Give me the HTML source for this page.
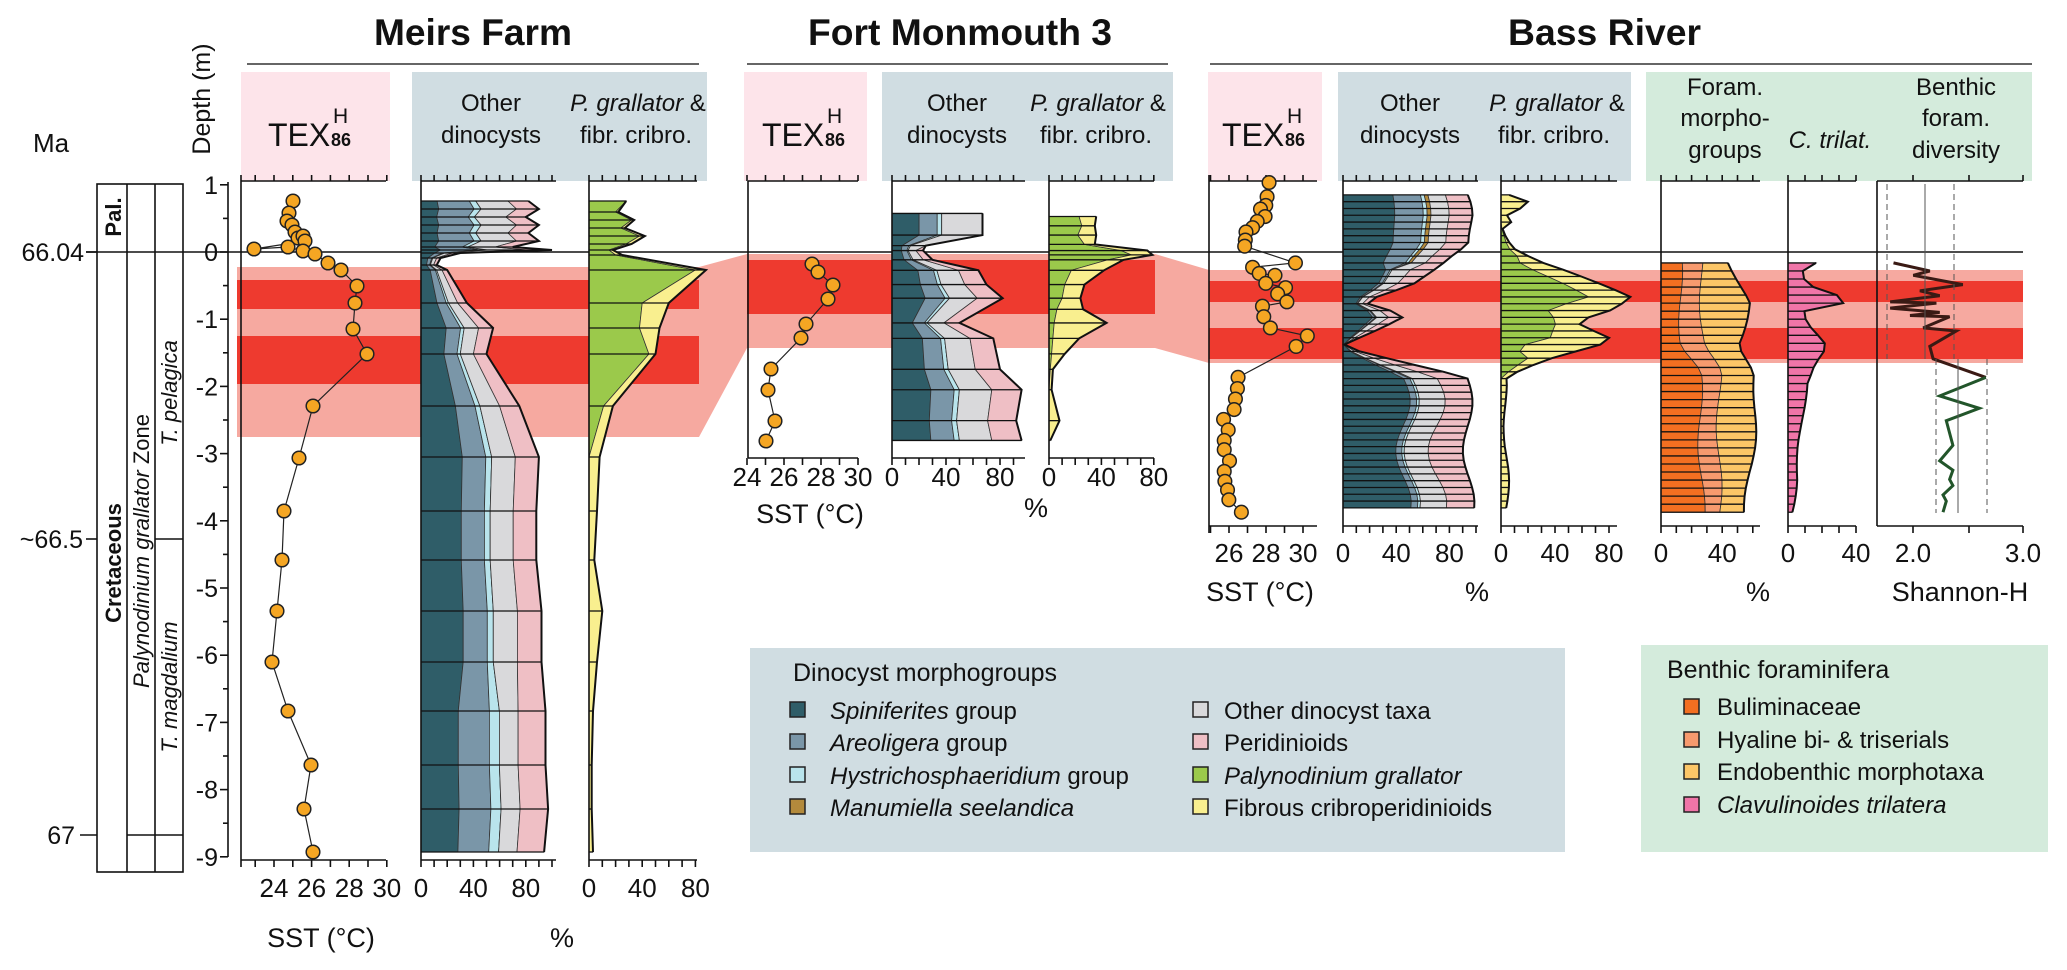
<!DOCTYPE html>
<html><head><meta charset="utf-8"><style>body{margin:0;background:#fff}svg{display:block}text{font-family:"Liberation Sans",Arial,sans-serif;fill:#111}</style></head>
<body>
<svg id="s" xmlns="http://www.w3.org/2000/svg" width="2067" height="970" viewBox="0 0 2067 970">
<rect x="241" y="72" width="149" height="109" fill="#fde4ea"/>
<rect x="412" y="72" width="295" height="109" fill="#d0dde2"/>
<rect x="744" y="72" width="123" height="109" fill="#fde4ea"/>
<rect x="882" y="72" width="291" height="109" fill="#d0dde2"/>
<rect x="1208" y="72" width="114" height="109" fill="#fde4ea"/>
<rect x="1338" y="72" width="293" height="109" fill="#d0dde2"/>
<rect x="1646" y="72" width="386" height="109" fill="#d4ebdc"/>
<rect x="750" y="648" width="815" height="204" fill="#d0dde2"/>
<rect x="1641" y="645" width="407" height="207" fill="#d4ebdc"/>
<g id="bands"></g>
<g id="data"></g>
<g id="axes" stroke="#111" stroke-width="1.6" fill="none"></g>
<g id="dots"></g>
<text x="374" y="45" font-size="37" font-weight="bold" textLength="198" lengthAdjust="spacingAndGlyphs">Meirs Farm</text>
<text x="808" y="45" font-size="37" font-weight="bold" textLength="304" lengthAdjust="spacingAndGlyphs">Fort Monmouth 3</text>
<text x="1508" y="45" font-size="37" font-weight="bold" textLength="193" lengthAdjust="spacingAndGlyphs">Bass River</text>
<line x1="247" y1="64" x2="699" y2="64" stroke="#333" stroke-width="1.4"/>
<line x1="747" y1="64" x2="1168" y2="64" stroke="#333" stroke-width="1.4"/>
<line x1="1210" y1="64" x2="2032" y2="64" stroke="#333" stroke-width="1.4"/>
<g font-size="24" text-anchor="middle">
<text x="491" y="111">Other</text><text x="491" y="143">dinocysts</text>
<text x="638" y="111"><tspan font-style="italic">P. grallator</tspan> &amp;</text><text x="636" y="143">fibr. cribro.</text>
<text x="957" y="111">Other</text><text x="957" y="143">dinocysts</text>
<text x="1098" y="111"><tspan font-style="italic">P. grallator</tspan> &amp;</text><text x="1096" y="143">fibr. cribro.</text>
<text x="1410" y="111">Other</text><text x="1410" y="143">dinocysts</text>
<text x="1557" y="111"><tspan font-style="italic">P. grallator</tspan> &amp;</text><text x="1554" y="143">fibr. cribro.</text>
<text x="1725" y="95">Foram.</text><text x="1725" y="126">morpho-</text><text x="1725" y="158">groups</text>
<text x="1830" y="148" font-style="italic">C. trilat.</text>
<text x="1956" y="95">Benthic</text><text x="1956" y="126">foram.</text><text x="1956" y="158">diversity</text>
</g>
<g font-size="32">
<text x="268" y="146">TEX</text><text x="333" y="123" font-size="21">H</text><text x="331" y="146" font-size="18" font-weight="bold">86</text>
<text x="762" y="146">TEX</text><text x="827" y="123" font-size="21">H</text><text x="825" y="146" font-size="18" font-weight="bold">86</text>
<text x="1222" y="146">TEX</text><text x="1287" y="123" font-size="21">H</text><text x="1285" y="146" font-size="18" font-weight="bold">86</text>
</g>
<text x="51" y="152" font-size="26" text-anchor="middle">Ma</text>
<text transform="translate(210,99) rotate(-90)" font-size="25" text-anchor="middle">Depth (m)</text>
<g stroke="#111" stroke-width="1.6" fill="none">
<rect x="97" y="184" width="86" height="688"/>
<line x1="127" y1="184" x2="127" y2="872"/><line x1="155" y1="184" x2="155" y2="872"/>
<line x1="155" y1="539" x2="183" y2="539"/>
<line x1="127" y1="835" x2="183" y2="835"/>
<line x1="86" y1="252" x2="97" y2="252"/><line x1="86" y1="539" x2="97" y2="539"/><line x1="80" y1="835" x2="97" y2="835"/>
</g>
<g font-size="25" text-anchor="end">
<text x="84" y="261">66.04</text><text x="83" y="548">~66.5</text><text x="75" y="844">67</text>
</g>
<text transform="translate(121,217) rotate(-90)" font-size="22" font-weight="bold" text-anchor="middle">Pal.</text>
<text transform="translate(121,563) rotate(-90)" font-size="22" font-weight="bold" text-anchor="middle">Cretaceous</text>
<text transform="translate(149,551) rotate(-90)" font-size="22" text-anchor="middle"><tspan font-style="italic">Palynodinium grallator</tspan> Zone</text>
<text transform="translate(177,393) rotate(-90)" font-size="22" font-style="italic" text-anchor="middle">T. pelagica</text>
<text transform="translate(177,687) rotate(-90)" font-size="22" font-style="italic" text-anchor="middle">T. magdalium</text>
<g id="depthlab" font-size="25" text-anchor="end"></g>
<g font-size="26" text-anchor="middle" id="blabs"></g>
<g font-size="27" text-anchor="middle">
<text x="321" y="947">SST (°C)</text><text x="562" y="947">%</text>
<text x="810" y="523">SST (°C)</text><text x="1036" y="517">%</text>
<text x="1260" y="601">SST (°C)</text><text x="1477" y="601">%</text><text x="1758" y="601">%</text><text x="1960" y="601">Shannon-H</text>
</g>
<g font-size="24">
<text x="793" y="681" font-size="25">Dinocyst morphogroups</text>
<text x="830" y="719"><tspan font-style="italic">Spiniferites</tspan> group</text>
<text x="830" y="751"><tspan font-style="italic">Areoligera</tspan> group</text>
<text x="830" y="784"><tspan font-style="italic">Hystrichosphaeridium</tspan> group</text>
<text x="830" y="816" font-style="italic">Manumiella seelandica</text>
<text x="1224" y="719">Other dinocyst taxa</text>
<text x="1224" y="751">Peridinioids</text>
<text x="1224" y="784" font-style="italic">Palynodinium grallator</text>
<text x="1224" y="816">Fibrous cribroperidinioids</text>
<text x="1667" y="678" font-size="25">Benthic foraminifera</text>
<text x="1717" y="715">Buliminaceae</text>
<text x="1717" y="748">Hyaline bi- &amp; triserials</text>
<text x="1717" y="780">Endobenthic morphotaxa</text>
<text x="1717" y="813" font-style="italic">Clavulinoides trilatera</text>
</g>
<g stroke="#222" stroke-width="1.5">
<rect x="790" y="702" width="15" height="15" fill="#2f5d68"/>
<rect x="790" y="734" width="15" height="15" fill="#7a96a8"/>
<rect x="790" y="767" width="15" height="15" fill="#b9e4ec"/>
<rect x="790" y="799" width="15" height="15" fill="#b38a3c"/>
<rect x="1193" y="702" width="15" height="15" fill="#d9d9db"/>
<rect x="1193" y="734" width="15" height="15" fill="#efbfc5"/>
<rect x="1193" y="767" width="15" height="15" fill="#9bc94b"/>
<rect x="1193" y="799" width="15" height="15" fill="#f9ef8f"/>
<rect x="1684" y="699" width="15" height="15" fill="#f36f21"/>
<rect x="1684" y="732" width="15" height="15" fill="#f79a6e"/>
<rect x="1684" y="764" width="15" height="15" fill="#fcc667"/>
<rect x="1684" y="797" width="15" height="15" fill="#f075a8"/>
</g>
</svg>
<script>
var NS="http://www.w3.org/2000/svg";
function el(p,tag,a){var e=document.createElementNS(NS,tag);for(var k in a)e.setAttribute(k,a[k]);document.getElementById(p).appendChild(e);return e;}
function P(pts){return pts.map(function(q){return q[0].toFixed(1)+","+q[1].toFixed(1)}).join(" ");}
function X6(x){return x/1.5165+1033;} function Y6(y){return y/1.6165;}
var B="bands",L="#f6a9a0",R="#ee3a2f";
el(B,"rect",{x:237,y:267,width:462,height:170,fill:L});
el(B,"rect",{x:237,y:280,width:462,height:29,fill:R});
el(B,"rect",{x:237,y:336,width:462,height:48,fill:R});
el(B,"polygon",{points:"699,267 747,254 747,348 699,437",fill:L});
el(B,"rect",{x:747,y:254,width:408,height:94,fill:L});
el(B,"rect",{x:747,y:260,width:408,height:54,fill:R});
el(B,"polygon",{points:"1155,254 1209,270 1209,363 1155,348",fill:L});
el(B,"rect",{x:1209,y:270,width:814,height:93,fill:L});
el(B,"rect",{x:1209,y:281,width:814,height:21,fill:R});
el(B,"rect",{x:1209,y:328,width:814,height:31,fill:R});
el(B,"line",{x1:86,y1:252,x2:2023,y2:252,stroke:"#111","stroke-width":1.6});
function stack(x0,ppu,ys,layers,cols){
 var n=ys.length,prev=ys.map(function(){return 0});
 layers.forEach(function(l,i){
  var cur=prev.map(function(v,j){return v+l[j]});
  var pts=[];for(var j=0;j<n;j++)pts.push([x0+cur[j]*ppu,ys[j]]);
  for(var j=n-1;j>=0;j--)pts.push([x0+prev[j]*ppu,ys[j]]);
  el("data","polygon",{points:P(pts),fill:cols[i],stroke:"#333","stroke-width":0.8});
  prev=cur;});
 for(var j=0;j<n;j++)el("data","line",{x1:x0,y1:ys[j],x2:x0+prev[j]*ppu,y2:ys[j],stroke:"#111","stroke-width":1.3});
 el("data","polyline",{points:P(ys.map(function(y,j){return[x0+prev[j]*ppu,y]})),fill:"none",stroke:"#111","stroke-width":2});
}
function interp(kp,y){for(var i=0;i<kp.length-1;i++){if(y<=kp[i+1][0]){var t=(y-kp[i][0])/(kp[i+1][0]-kp[i][0]);return kp[i][1]+t*(kp[i+1][1]-kp[i][1]);}}return kp[kp.length-1][1];}
function nz(i,a){return Math.sin(i*12.9898+1.3)*a;}
var DC=["#2f5d68","#7a96a8","#b9e4ec","#b38a3c","#d9d9db","#efbfc5"];
function dinoLayers(ys,tot,fr){var ls=[[],[],[],[],[],[]];ys.forEach(function(y,j){var f=fr(y,j);for(var k=0;k<6;k++)ls[k].push(tot[j]*f[k]);});return ls;}
var ys=[201,209,217,225,233,241,247,250,253,258,265,270,303,328,354,406,457,511,560,611,662,711,765,809,852];
var tot=[82,90,80,90,82,90,70,100,30,15,12,20,35,55,50,75,90,88,88,92,92,95,95,97,94];
stack(421,1.31,ys,dinoLayers(ys,tot,function(y){return y<252?[.15,.3,.06,0,.3,.19]:y<700?[.35,.2,.05,0,.2,.2]:[.3,.25,.08,0,.15,.22]}),DC);
ys=[201,212,220,228,236,244,250,255,270,303,328,354,406,457,511,560,611,662,711,765,809,852];
stack(589,1.33,ys,[[28,20,32,24,38,28,15,20,80,40,38,45,11,0,0,0,0,0,0,0,0,0],[0,2,2,3,4,4,3,5,8,20,15,5,7,8,6,4,10,6,3,2,2,3]],["#9bc94b","#f9ef8f"]);
var zy=[345,380,397,405,420,437,460,482,522,547,597,630,680,712];ys=zy.map(Y6);
tot=[67,67,25,23,30,64,70,82,50,75,80,96,92,96];
stack(892,1.35,ys,dinoLayers(ys,tot,function(y){return y<250?[.3,.2,.05,0,.45,0]:[.3,.18,.04,0,.25,.23]}),DC);
zy=[350,365,380,395,405,412,420,437,460,482,500,522,547,572,597,630,680,712];ys=zy.map(Y6);
stack(1049,1.31,ys,[[23,25,22,27,55,63,45,17,12,10,6,4,3,2,1,0,0,0],[13,10,14,8,20,16,12,25,15,14,20,40,20,10,2,2,8,1]],["#9bc94b","#f9ef8f"]);
zy=[];for(var v=315;v<=828;v+=11)zy.push(v);ys=zy.map(Y6);
var kT=[[315,90],[345,95],[395,98],[430,75],[460,50],[488,10],[510,45],[530,30],[560,2],[610,93],[828,95]];
tot=zy.map(function(y,i){return Math.max(1,interp(kT,y)+nz(i,4))});
stack(1343,1.33,ys,dinoLayers(ys,tot,function(y,j){return zy[j]<430?[.4,.22,.03,.03,.14,.18]:[.48+nz(j,.04),.05,.02,0,.2,.25-nz(j,.04)]}),DC);
var kG=[[315,0],[365,0],[400,5],[430,20],[460,45],[480,60],[500,30],[520,40],[550,40],[560,15],[580,25],[607,0],[828,0]];
var kY=[[315,5],[330,25],[345,3],[355,12],[370,2],[410,5],[430,20],[460,25],[480,30],[500,50],[520,15],[550,50],[560,60],[580,15],[607,2],[700,4],[828,4]];
stack(1501,1.35,ys,[zy.map(function(y,i){return Math.max(0,interp(kG,y)+(y>420&&y<600?nz(i,5):0))}),zy.map(function(y,i){return Math.max(0.5,interp(kY,y)+nz(i+3,2))})],["#9bc94b","#f9ef8f"]);
zy=[];for(var v=425;v<=830;v+=13)zy.push(v);ys=zy.map(Y6);
stack(1661,1.53,ys,[zy.map(function(y,i){return interp([[425,12],[560,14],[600,25],[830,27]],y)+nz(i,2)}),zy.map(function(y,i){return interp([[425,14],[560,14],[600,13],[830,11]],y)+nz(i+5,2)}),zy.map(function(y,i){return interp([[425,20],[488,30],[560,22],[610,25],[830,18]],y)+nz(i+9,4)})],["#f36f21","#f79a6e","#fcc667"]);
stack(1788,1.7,ys,[zy.map(function(y,i){return Math.max(1,interp([[425,15],[440,6],[460,10],[470,20],[488,42],[495,10],[520,12],[545,20],[560,24],[590,15],[620,10],[700,8],[780,5],[830,1]],y)+nz(i,1.5))})],["#f075a8"]);
var A="axes";
el(A,"line",{x1:1887,y1:184,x2:1887,y2:359,"stroke-dasharray":"6,4","stroke-width":1,stroke:"#555"});
el(A,"line",{x1:1925,y1:184,x2:1925,y2:359,"stroke-width":1,stroke:"#555"});
el(A,"line",{x1:1954,y1:184,x2:1954,y2:359,"stroke-dasharray":"6,4","stroke-width":1,stroke:"#555"});
el(A,"line",{x1:1936,y1:359,x2:1936,y2:513,"stroke-dasharray":"6,4","stroke-width":1,stroke:"#555"});
el(A,"line",{x1:1958,y1:359,x2:1958,y2:513,"stroke-width":1,stroke:"#555"});
el(A,"line",{x1:1987,y1:359,x2:1987,y2:513,"stroke-dasharray":"6,4","stroke-width":1,stroke:"#555"});
var d1=[[1305,425],[1360,438],[1335,445],[1360,450],[1410,460],[1345,470],[1375,478],[1300,488],[1370,490],[1300,498],[1375,505],[1330,510],[1390,512],[1350,530],[1400,535],[1360,560],[1365,580],[1445,610]];
var d2=[[1445,610],[1375,640],[1435,660],[1385,680],[1395,720],[1375,745],[1395,760],[1390,775],[1395,785],[1380,800],[1385,810],[1380,828]];
el("data","polyline",{points:P(d1.map(function(q){return[X6(q[0]),Y6(q[1])]})),fill:"none",stroke:"#3a1a14","stroke-width":3});
el("data","polyline",{points:P(d2.map(function(q){return[X6(q[0]),Y6(q[1])]})),fill:"none",stroke:"#22552a","stroke-width":3});
function ax(x0,x1,ytop,ybot,tx,bottom,ticks){
 el(A,"line",{x1:x0,y1:ytop,x2:x0,y2:ybot});
 el(A,"line",{x1:x0,y1:ytop,x2:x1,y2:ytop});
 ticks.forEach(function(t){el(A,"line",{x1:t,y1:ytop,x2:t,y2:ytop-6});});
 if(bottom){el(A,"line",{x1:x0,y1:ybot,x2:x1,y2:ybot});ticks.forEach(function(t){el(A,"line",{x1:t,y1:ybot,x2:t,y2:ybot+7});});}
}
function rng(a,b,s,f){var r=[];for(var v=a;v<=b+1e-6;v+=s)r.push(f(v));return r;}
function lab(x,y,t){var e=el("blabs","text",{x:x,y:y});e.textContent=t;}
ax(241,386,181,860,0,1,rng(23,30,1,function(T){return 274+(T-24)*18.8}).concat([241]));
[24,26,28,30].forEach(function(T){lab(274+(T-24)*18.8,897,T)});
ax(421,556,181,860,0,1,rng(0,100,10,function(p){return 421+p*1.31}));
[0,40,80].forEach(function(p){lab(421+p*1.31,897,p)});
ax(589,697,181,860,0,1,rng(0,80,10,function(p){return 589+p*1.33}));
[0,40,80].forEach(function(p){lab(589+p*1.33,897,p)});
ax(748,858,181,458,0,1,rng(24,30,1,function(T){return 747+(T-24)*18.5}));
[24,26,28,30].forEach(function(T){lab(747+(T-24)*18.5,486,T)});
ax(892,1025,181,458,0,1,rng(0,90,10,function(p){return 892+p*1.35}));
[0,40,80].forEach(function(p){lab(892+p*1.35,486,p)});
ax(1049,1154,181,458,0,1,rng(0,80,10,function(p){return 1049+p*1.31}));
[0,40,80].forEach(function(p){lab(1049+p*1.31,486,p)});
ax(1209,1317,181,526,0,1,rng(25,30,1,function(T){return 1229+(T-26)*18.5}).concat([1209]));
[26,28,30].forEach(function(T){lab(1229+(T-26)*18.5,562,T)});
ax(1343,1478,181,526,0,1,rng(0,100,10,function(p){return 1343+p*1.33}));
[0,40,80].forEach(function(p){lab(1343+p*1.33,562,p)});
ax(1501,1617,181,526,0,1,rng(0,80,10,function(p){return 1501+p*1.35}));
[0,40,80].forEach(function(p){lab(1501+p*1.35,562,p)});
ax(1661,1760,181,526,0,1,rng(0,60,10,function(p){return 1661+p*1.53}));
[0,40].forEach(function(p){lab(1661+p*1.53,562,p)});
ax(1788,1856,181,526,0,1,rng(0,40,10,function(p){return 1788+p*1.7}));
[0,40].forEach(function(p){lab(1788+p*1.7,562,p)});
ax(1877,2023,181,526,0,1,[1913,1969,2023]);
lab(1913,562,"2.0");lab(2023,562,"3.0");
el(A,"line",{x1:228,y1:182,x2:228,y2:857});
for(var d=1;d>=-9;d-=0.5){var y=252-67.2*d;el(A,"line",{x1:228,y1:y,x2:d%1==0?220:223,y2:y});
 if(d%1==0){var e=el("depthlab","text",{x:218,y:y+9});e.textContent=d==0?"0":(d<0?"-"+(-d):d);}}
function dots(pts){el("dots","polyline",{points:P(pts),fill:"none",stroke:"#222","stroke-width":1.2});
 pts.forEach(function(q){el("dots","circle",{cx:q[0],cy:q[1],r:6.8,fill:"#f5a623",stroke:"#222","stroke-width":1.5});});}
dots([[293,201],[289,213],[287,221],[292,225],[295,232],[298,238],[303,236],[305,241],[254,249],[288,247],[303,251],[315,254],[328,263],[341,270],[357,286],[355,303],[353,329],[367,354],[313,406],[299,458],[284,511],[282,560],[277,611],[272,662],[288,711],[311,765],[304,809],[313,852]]);
dots([[812,264],[818,272],[833,285],[828,299],[806,324],[801,338],[771,369],[768,390],[775,421],[766,441]]);
var br=[[358,295],[355,318],[353,332],[345,338],[352,350],[340,358],[333,368],[323,375],[322,388],[321,398],[398,425],[333,432],[343,442],[367,445],[353,458],[383,465],[371,475],[385,488],[348,495],[350,512],[360,530],[416,543],[399,560],[311,610],[310,628],[307,645],[305,662],[289,678],[296,695],[290,712],[290,727],[298,745],[290,762],[291,778],[295,792],[297,808],[316,828]];
dots(br.map(function(q){return[X6(q[0]),Y6(q[1])]}));
</script>
</body></html>
